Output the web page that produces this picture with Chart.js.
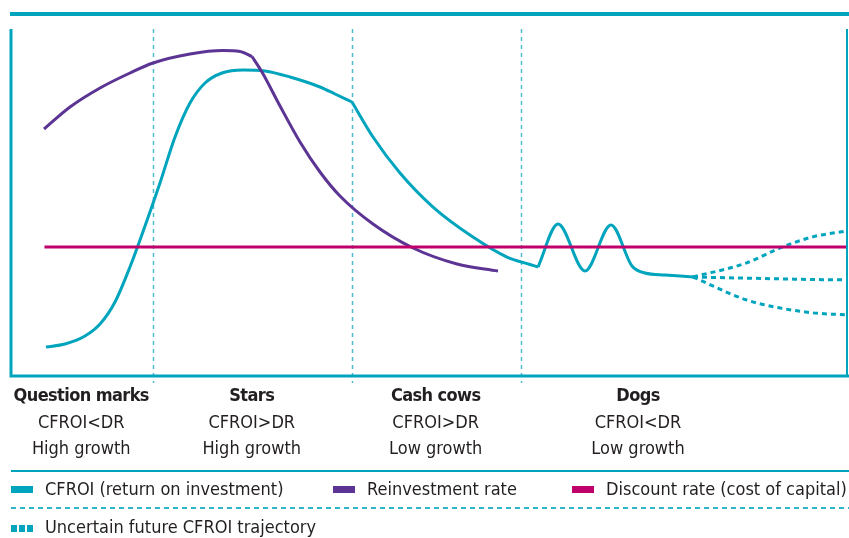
<!DOCTYPE html>
<html>
<head>
<meta charset="utf-8">
<script src="https://cdn.jsdelivr.net/npm/chart.js@4.4.1/dist/chart.umd.min.js"></script>
<style>
  html, body { margin: 0; padding: 0; background: #fff; }
  body {
    width: 849px; height: 538px; position: relative; overflow: hidden;
    font-family: "Liberation Sans Narrow", "DejaVu Sans Condensed", sans-serif;
    color: #231f20;
  }
  #topRule { position: absolute; left: 10px; right: 0; top: 12px; height: 4px; background: #00a5bd; }
  #chartBox { position: absolute; left: 0; top: 0; width: 849px; height: 538px; }
  .phase {
    position: absolute; top: 382px; transform: translateX(-50%);
    text-align: center; font-size: 18px; line-height: 26.5px; white-space: nowrap;
  }
  .phase b { display: block; font-weight: bold; letter-spacing: -0.6px; }
  .rule { position: absolute; left: 11px; right: 0; height: 2px; }
  #legendTop { top: 470px; background: #00a5bd; }
  #legendMid { top: 507px; background: repeating-linear-gradient(90deg, #2fb5c8 0 5px, transparent 5px 9px); }
  .item { position: absolute; font-size: 18px; line-height: 20px; white-space: nowrap; }
  .swatch { position: absolute; width: 22px; height: 7px; }
  .row1 { top: 479px; }
  .row2 { top: 517px; }
</style>
</head>
<body>
<div id="topRule"></div>
<div id="chartBox"><canvas id="lifeCycle" width="849" height="538"></canvas></div>
<div id="phases"></div>

<div class="rule" id="legendTop"></div>
<div class="swatch" style="left:11px; top:486px; background:#00a5bd"></div>
<div class="item row1" style="left:45px">CFROI (return on investment)</div>
<div class="swatch" style="left:333px; top:486px; background:#5c3494"></div>
<div class="item row1" style="left:367px">Reinvestment rate</div>
<div class="swatch" style="left:572px; top:486px; background:#c0006b"></div>
<div class="item row1" style="left:606px">Discount rate (cost of capital)</div>
<div class="rule" id="legendMid"></div>
<div class="swatch" style="left:11px; top:525px; background:repeating-linear-gradient(90deg, #00a5bd 0 6px, transparent 6px 8px)"></div>
<div class="item row2" style="left:45px">Uncertain future CFROI trajectory</div>

<script>
// life-cycle stages (x runs 0-100 across the life of the firm)
const phaseNames = ["Question marks", "Stars", "Cash cows", "Dogs"];
const phaseReturn = ["CFROI<DR", "CFROI>DR", "CFROI>DR", "CFROI<DR"];
const phaseGrowth = ["High growth", "High growth", "Low growth", "Low growth"];
const phaseLabelAt = [8.4, 28.8, 50.8, 75.0];
const phaseBounds = [17.0, 40.8, 61.0];

// CFROI
const cfroiX = [4.19, 6.46, 8.85, 10.65, 12.44, 14.23, 16.03, 17.82, 19.62, 21.41, 23.21, 25.24, 27.75,
                30.38, 33.37, 36.96, 38.76, 40.79, 43.30, 46.53, 50.48, 55.26, 59.33, 62.08, 63.04,
                65.43, 68.66, 71.77, 74.28, 75.84, 78.23, 81.58];
const cfroiY = [8.36, 9.22, 11.53, 14.99, 21.33, 31.41, 43.23, 55.62, 68.88, 78.67, 84.44, 87.32, 88.18,
                87.90, 86.17, 83.29, 81.27, 78.96, 68.88, 58.50, 48.70, 40.06, 34.29, 32.13, 31.41,
                43.80, 30.26, 43.52, 31.70, 29.68, 29.11, 28.53];
// x where the CFROI path turns sharply
const cfroiKinks = [40.79, 63.04];

// uncertain future CFROI paths
const futureX = [81.58, 88.0, 92.0, 95.9, 100];
const futureUpY = [28.53, 32.6, 36.9, 40.1, 41.8];
const futureFlatY = [28.53, 28.2, 28.0, 27.8, 27.7];
const futureDownY = [28.53, 21.9, 19.6, 18.2, 17.6];

// reinvestment rate
const reinvestX = [3.95, 7.06, 10.65, 14.23, 16.99, 21.41, 25.36, 27.39, 28.83, 30.02, 32.18, 34.57,
                   36.96, 39.35, 43.30, 48.09, 53.35, 58.25];
const reinvestY = [71.18, 77.52, 83.00, 87.32, 90.20, 92.80, 93.80, 93.52, 92.07, 87.61, 77.81, 67.44,
                   58.79, 51.87, 43.80, 36.89, 32.28, 30.26];
const reinvestKinks = [28.83];

// discount rate (cost of capital)
const discountX = [4.0, 100];
const discountY = [37.2, 37.2];

const TEAL = "#00a5bd";
const PURPLE = "#5c3494";
const MAGENTA = "#c0006b";

const toPoints = (xs, ys) => xs.map((x, i) => ({ x, y: ys[i] }));

// cut a series into pieces at its kinks so the spline keeps the corner sharp
function pieces(xs, ys, kinks) {
  const pts = toPoints(xs, ys);
  const out = [];
  let cur = [];
  pts.forEach((p) => {
    cur.push(p);
    if (kinks.includes(p.x)) {
      out.push(cur);
      cur = [p];
    }
  });
  if (cur.length > 1) out.push(cur);
  return out;
}

const lineSet = (label, data, color, extra) => Object.assign({
  label,
  data,
  borderColor: color,
  borderWidth: 3,
  pointRadius: 0,
  fill: false,
  cubicInterpolationMode: "monotone",
}, extra || {});

// frame + stage dividers
const framePlugin = {
  id: "frame",
  beforeDatasetsDraw(chart) {
    const { ctx, chartArea, scales } = chart;
    ctx.save();
    ctx.strokeStyle = "#4dbccc";
    ctx.lineWidth = 1.5;
    ctx.setLineDash([4, 4]);
    phaseBounds.forEach((v) => {
      const px = Math.round(scales.x.getPixelForValue(v)) + 0.5;
      ctx.beginPath();
      ctx.moveTo(px, chartArea.top);
      ctx.lineTo(px, chartArea.bottom + 7);
      ctx.stroke();
    });
    ctx.restore();
  },
  afterDraw(chart) {
    const { ctx, chartArea } = chart;
    ctx.save();
    ctx.strokeStyle = TEAL;
    ctx.lineWidth = 3;
    ctx.beginPath();
    ctx.moveTo(chartArea.left, chartArea.top);
    ctx.lineTo(chartArea.left, chartArea.bottom);
    ctx.lineTo(chart.width, chartArea.bottom);
    ctx.stroke();
    ctx.lineWidth = 2;
    ctx.beginPath();
    ctx.moveTo(chartArea.right, chartArea.top);
    ctx.lineTo(chartArea.right, chartArea.bottom);
    ctx.stroke();
    ctx.restore();
  },
};

const datasets = [
  lineSet("Discount rate (cost of capital)", toPoints(discountX, discountY), MAGENTA, { cubicInterpolationMode: "default", tension: 0 }),
  ...pieces(reinvestX, reinvestY, reinvestKinks).map((d) => lineSet("Reinvestment rate", d, PURPLE)),
  ...pieces(cfroiX, cfroiY, cfroiKinks).map((d) => lineSet("CFROI (return on investment)", d, TEAL)),
  ...[futureUpY, futureFlatY, futureDownY].map((ys) =>
    lineSet("Uncertain future CFROI trajectory", toPoints(futureX, ys), TEAL, { borderDash: [5, 4] })),
];

const chart = new Chart(document.getElementById("lifeCycle"), {
  type: "line",
  data: { datasets },
  options: {
    responsive: false,
    animation: false,
    layout: { padding: { left: 11, right: 2, top: 29, bottom: 162 } },
    scales: {
      x: { type: "linear", min: 0, max: 100, display: false },
      y: { type: "linear", min: 0, max: 100, display: false },
    },
    plugins: { legend: { display: false }, tooltip: { enabled: false } },
  },
  plugins: [framePlugin],
});

// stage captions under the plot, placed on the x scale
const phaseBox = document.getElementById("phases");
phaseNames.forEach((name, i) => {
  const el = document.createElement("div");
  el.className = "phase";
  el.style.left = chart.scales.x.getPixelForValue(phaseLabelAt[i]) + "px";
  const b = document.createElement("b");
  b.textContent = name;
  el.appendChild(b);
  el.appendChild(document.createTextNode(phaseReturn[i]));
  el.appendChild(document.createElement("br"));
  el.appendChild(document.createTextNode(phaseGrowth[i]));
  phaseBox.appendChild(el);
});
</script>
</body>
</html>
